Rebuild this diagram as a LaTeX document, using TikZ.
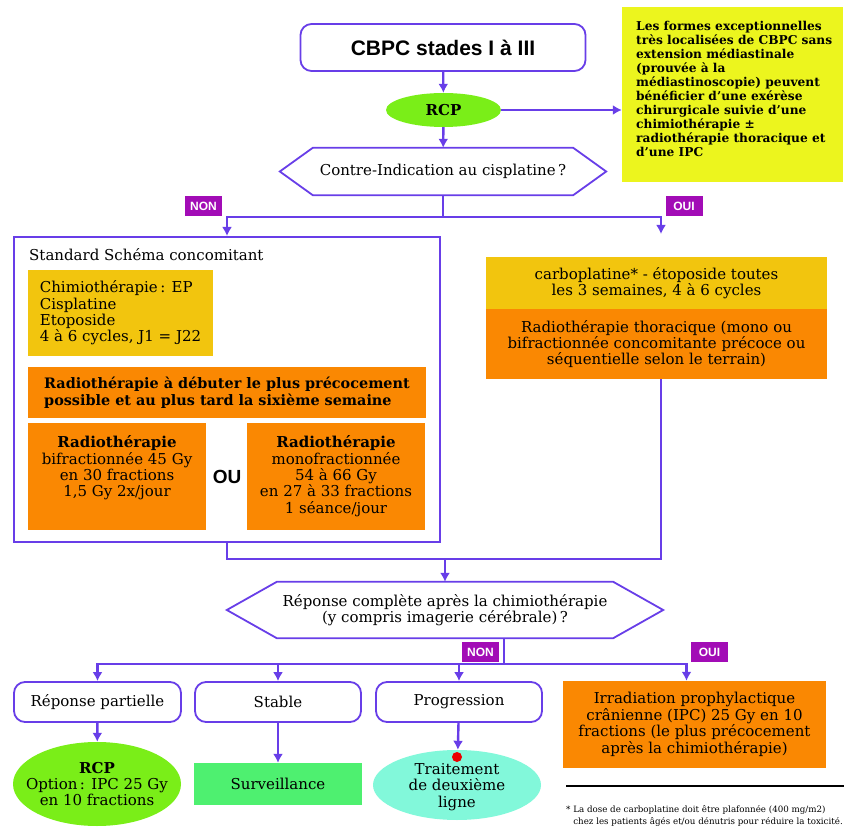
\documentclass[tikz,border=0pt]{standalone}
\usepackage{fontspec}
\setmainfont{DejaVu Serif}
\newfontfamily\headfont{Liberation Sans}
\usetikzlibrary{arrows.meta,shapes.geometric}
\definecolor{violetline}{RGB}{104,62,232}
\definecolor{labelpurple}{RGB}{162,12,182}
\definecolor{noteyellow}{RGB}{236,245,30}
\definecolor{chemoyellow}{RGB}{242,197,14}
\definecolor{radorange}{RGB}{250,136,2}
\definecolor{rcpgreen}{RGB}{122,238,24}
\definecolor{survgreen}{RGB}{78,240,112}
\definecolor{trtcyan}{RGB}{130,248,218}
\definecolor{dotred}{RGB}{235,0,0}
\newcommand{\bodysize}{\fontsize{15}{16.3}\selectfont}
\tikzstyle{flow}=[draw=violetline, line width=2.4pt]
\tikzstyle{edge}=[flow, -{Latex[length=9pt,width=10pt]}]
\tikzstyle{stage}=[rectangle, rounded corners=11pt, draw=violetline, line width=1.8pt, fill=white]
\tikzstyle{frame}=[rectangle, draw=violetline, line width=2pt]
\tikzstyle{decide}=[rectangle, inner sep=0pt, align=center]
\tikzstyle{answer}=[fill=labelpurple, text=white, inner sep=0pt, minimum width=37pt, minimum height=20pt, font=\headfont\bfseries\fontsize{12}{12}\selectfont]
\tikzstyle{yel}=[fill=chemoyellow, inner sep=0pt, align=center]
\tikzstyle{orng}=[fill=radorange, inner sep=0pt, align=center]
\tikzstyle{txt}=[inner sep=0pt, align=center]
\newcommand{\decideframe}[2]{\draw[draw=violetline, line width=1.8pt] ([xshift=-#2]#1.west) -- (#1.north west) -- (#1.north east) -- ([xshift=#2]#1.east) -- (#1.south east) -- (#1.south west) -- cycle;}

\begin{document}
\begin{tikzpicture}[x=1pt, y=-1pt, font=\bodysize]
\useasboundingbox (0,0) rectangle (844,834);

%The head
\draw (443,47.5) node[stage, minimum width=285pt, minimum height=47pt, font=\headfont\bfseries\fontsize{21}{21}\selectfont] (title) {CBPC stades I à III};
\draw (443.5,110) node[ellipse, fill=rcpgreen, minimum width=115pt, minimum height=34pt, inner sep=0pt, font=\bodysize\bfseries] (rcp) {RCP};
\draw (732.5,94.5) node[fill=noteyellow, minimum width=221pt, minimum height=175pt] (note) {};
\draw (636,89) node[anchor=west, inner sep=0pt, align=left, font=\bfseries\fontsize{12.2}{14}\selectfont] (notetxt) {Les formes exceptionnelles\\très localisées de CBPC sans\\extension médiastinale\\(prouvée à la\\médiastinoscopie) peuvent\\bénéficier d’une exérèse\\chirurgicale suivie d’une\\chimiothérapie ±\\radiothérapie thoracique et\\d’une IPC};
\draw (443,171.5) node[decide, minimum width=260pt, minimum height=47pt] (ci) {Contre-Indication au cisplatine\,?};
\decideframe{ci}{33pt}

\draw[edge] (title) -- (rcp);
\draw[edge] (rcp.east) -- (rcp.east -| note.west);
\draw[edge] (rcp) -- (ci);

%The split
\coordinate (split) at (443,217);
\coordinate (ouitip) at (661,234);
\draw (203.5,206) node[answer] (non) {NON};
\draw (684,206) node[answer] (oui) {OUI};

%The standard scheme
\draw (227,389.5) node[frame, minimum width=426pt, minimum height=305pt] (std) {};
\draw (29,255) node[txt, anchor=west] (stdtitle) {Standard Schéma concomitant};
\draw (120.5,313) node[yel, minimum width=185pt, minimum height=86pt, align=left] (chemo) {Chimiothérapie\,: EP\\Cisplatine\\Etoposide\\4 à 6 cycles, J1 = J22};
\draw (227,392.5) node[orng, minimum width=398pt, minimum height=51pt, align=left, font=\bfseries\fontsize{14.4}{17}\selectfont] (start) {Radiothérapie à débuter le plus précocement\\possible et au plus tard la sixième semaine};
\draw (117,476.5) node[orng, minimum width=178pt, minimum height=107pt] (radbi) {};
\draw ([yshift=-13pt]radbi.north) node[txt, anchor=north] (radbitxt) {\textbf{Radiothérapie}\\bifractionnée 45 Gy\\en 30 fractions\\1,5 Gy 2x/jour};
\draw (336,476.5) node[orng, minimum width=178pt, minimum height=107pt] (radmono) {};
\draw ([yshift=-13pt]radmono.north) node[txt, anchor=north] (radmonotxt) {\textbf{Radiothérapie}\\monofractionnée\\54 à 66 Gy\\en 27 à 33 fractions\\1 séance/jour};
\draw (227,477) node[txt, font=\headfont\bfseries\fontsize{19}{19}\selectfont] (ou) {OU};

%The carboplatine branch
\draw (656.5,283) node[yel, minimum width=341pt, minimum height=52pt] (carbo) {carboplatine* - étoposide toutes\\les 3 semaines, 4 à 6 cycles};
\draw (656.5,344) node[orng, minimum width=341pt, minimum height=70pt] (rt) {Radiothérapie thoracique (mono ou\\bifractionnée concomitante précoce ou\\séquentielle selon le terrain)};

\draw[flow] (ci.south) -- (split);
\draw[edge] (split) -| (std.north);
\draw[edge] (split) -| (ouitip);

%The response
\coordinate (merge) at (445,559);
\draw (445,610) node[decide, minimum width=336pt, minimum height=56pt] (rep) {Réponse complète après la chimiothérapie\\(y compris imagerie cérébrale)\,?};
\decideframe{rep}{50pt}
\draw[flow] (std.south) |- (merge);
\draw[flow] (rt.south -| ouitip) |- (merge);
\draw[edge] (merge) -- (rep.north);

\coordinate (split2) at (504,664);
\draw (480.5,652) node[answer] (non2) {NON};
\draw (709.5,652) node[answer] (oui2) {OUI};

%The outcomes
\draw (97.5,702) node[stage, minimum width=167pt, minimum height=40pt] (part) {Réponse partielle};
\draw (278,702) node[stage, minimum width=166pt, minimum height=40pt] (stab) {Stable};
\draw (459,702) node[stage, minimum width=166pt, minimum height=40pt] (prog) {Progression};
\draw (694.5,724.5) node[orng, minimum width=263pt, minimum height=87pt, font=\fontsize{15}{16.7}\selectfont] (irr) {Irradiation prophylactique\\crânienne (IPC) 25 Gy en 10\\fractions (le plus précocement\\après la chimiothérapie)};

\draw[flow] (rep.south -| split2) -- (split2);
\draw[edge] (split2) -| (part.north);
\draw[edge] (split2) -| (stab.north);
\draw[edge] (split2) -| (prog.north);
\draw[edge] (split2) -| ([xshift=-8pt]irr.north);

\draw (97,784) node[ellipse, fill=rcpgreen, minimum width=168pt, minimum height=84pt, inner sep=0pt] (rcpb) {};
\draw (rcpb.center) node[txt] (rcpbtxt) {\textbf{RCP}\\Option\,: IPC 25 Gy\\en 10 fractions};
\draw (278,784) node[fill=survgreen, minimum width=168pt, minimum height=42pt, inner sep=0pt] (surv) {Surveillance};
\draw (457,785) node[ellipse, fill=trtcyan, minimum width=168pt, minimum height=70pt, inner sep=0pt] (trt) {};
\draw ([yshift=-2pt]trt.center) node[txt] (trttxt) {Traitement\\de deuxième\\ligne};
\draw (457,757) node[circle, fill=dotred, minimum size=10pt, inner sep=0pt] (dot) {};

\draw[edge] (part) -- (rcpb);
\draw[edge] (stab) -- (surv);
\draw[edge] (prog) -- (trt);

%The footnote
\draw[line width=2pt] (566,786) -- (844,786);
\draw (566,805) node[anchor=north west, align=left, inner sep=0pt, font=\fontsize{8.7}{12}\selectfont] (foot) {* La dose de carboplatine doit être plafonnée (400 mg/m2)\\\phantom{* }chez les patients âgés et/ou dénutris pour réduire la toxicité.};
\end{tikzpicture}
\end{document}
